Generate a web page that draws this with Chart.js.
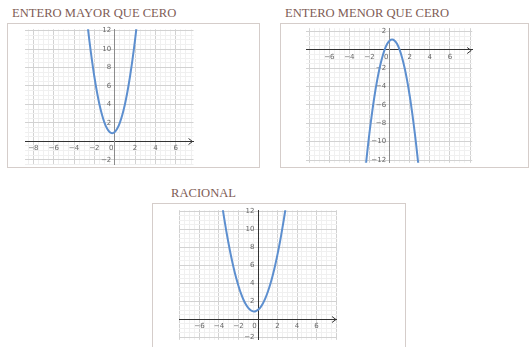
<!DOCTYPE html>
<html>
<head>
<meta charset="utf-8">
<script src="https://cdn.jsdelivr.net/npm/chart.js@4"></script>
<style>
  body { margin: 0; width: 529px; height: 347px; background: #fff; position: relative; overflow: hidden; }
  .title { position: absolute; font-family: "Liberation Serif", serif; font-size: 12.6px; line-height: 1; color: #7e5c55; white-space: nowrap; }
  .frame { position: absolute; border: 1px solid #d5cdca; background: #fff; box-sizing: border-box; }
  canvas { position: absolute; }
</style>
</head>
<body>
<div class="title" style="left:12px; top:7px;">ENTERO MAYOR QUE CERO</div>
<div class="title" style="left:285px; top:7px;">ENTERO MENOR QUE CERO</div>
<div class="title" style="left:171px; top:187px;">RACIONAL</div>

<div class="frame" style="left:7px; top:23px; width:253px; height:145px;"></div>
<div class="frame" style="left:280px; top:23px; width:249px; height:145px;"></div>
<div class="frame" style="left:152px; top:203px; width:254px; height:160px;"></div>

<canvas id="mayor" width="169" height="150" style="left:25px; top:22px;"></canvas>
<canvas id="menor" width="167" height="149" style="left:306px; top:21px;"></canvas>
<canvas id="racional" width="162" height="144" style="left:177px; top:203px;"></canvas>

<script>
// entero mayor que cero
const mayorX = [-2.75, -2.5, -2.25, -2, -1.75, -1.5, -1.25, -1, -0.75, -0.5, -0.25, 0, 0.25, 0.5, 0.75, 1, 1.25, 1.5, 1.75, 2, 2.25];
const mayorY = [13.38, 11, 8.88, 7, 5.38, 4, 2.88, 2, 1.38, 1, 0.88, 1, 1.38, 2, 2.88, 4, 5.38, 7, 8.88, 11, 13.38];
const mayorXTicks = [-8, -6, -4, -2, 0, 2, 4, 6];
const mayorYTicks = [-2, 2, 4, 6, 8, 10, 12];

// entero menor que cero
const menorX = [-2.5, -2.25, -2, -1.75, -1.5, -1.25, -1, -0.75, -0.5, -0.25, 0, 0.25, 0.5, 0.75, 1, 1.25, 1.5, 1.75, 2, 2.25, 2.5, 2.75, 3];
const menorY = [-14, -11.38, -9, -6.88, -5, -3.38, -2, -0.88, 0, 0.63, 1, 1.13, 1, 0.63, 0, -0.88, -2, -3.38, -5, -6.88, -9, -11.38, -14];
const menorXTicks = [-6, -4, -2, 0, 2, 4, 6];
const menorYTicks = [2, -2, -4, -6, -8, -10, -12];

// racional
const racionalX = [-3.75, -3.5, -3.25, -3, -2.75, -2.5, -2.25, -2, -1.75, -1.5, -1.25, -1, -0.75, -0.5, -0.25, 0, 0.25, 0.5, 0.75, 1, 1.25, 1.5, 1.75, 2, 2.25, 2.5, 2.75, 3];
const racionalY = [13.2, 11.42, 9.78, 8.29, 6.92, 5.7, 4.61, 3.67, 2.85, 2.18, 1.64, 1.25, 0.98, 0.86, 0.87, 1.03, 1.31, 1.74, 2.3, 3.01, 3.84, 4.82, 5.93, 7.19, 8.57, 10.1, 11.76, 13.57];
const racionalXTicks = [-6, -4, -2, 0, 2, 4, 6];
const racionalYTicks = [-2, 2, 4, 6, 8, 10, 12];

const MAJOR = "#d2d2d2";
const MINOR = "#f0f0f0";

const gridValues = (min, max, step) => {
  const out = [];
  for (let v = Math.ceil(min / step) * step; v <= max + 1e-9; v += step) {
    out.push(Math.round(v * 100) / 100);
  }
  return out;
};

const isMajor = (v) => Math.abs(v / 2 - Math.round(v / 2)) < 1e-6;
const fmt = (v) => (v < 0 ? "\u2212" + Math.abs(v) : String(v));

const gridColor = (ctx) => {
  const v = ctx.tick ? ctx.tick.value : 1;
  if (Math.abs(v) < 1e-9) return "rgba(0,0,0,0)";
  return isMajor(v) ? MAJOR : MINOR;
};

// small arrow head on the right end of the x axis
const axisArrow = {
  id: "axisArrow",
  afterDraw(chart) {
    const { ctx, chartArea, scales } = chart;
    const y0 = Math.round(scales.y.getPixelForValue(0)) + 0.5;
    const xr = chartArea.right - 1;
    ctx.save();
    ctx.strokeStyle = "#333";
    ctx.lineWidth = 1;
    ctx.beginPath();
    ctx.moveTo(xr - 4, y0 - 3);
    ctx.lineTo(xr, y0);
    ctx.lineTo(xr - 4, y0 + 3);
    ctx.stroke();
    ctx.restore();
  },
};

const generateGraph = (canvasId, xs, ys, xRange, yRange, xTicks, yTicks, yAxisColor) => {
  const canvas = document.getElementById(canvasId).getContext("2d");
  const tickFont = { size: 7, family: "DejaVu Sans" };

  new Chart(canvas, {
    type: "line",
    data: {
      datasets: [
        {
          data: xs.map((x, i) => ({ x: x, y: ys[i] })),
          borderColor: "#5d8fcf",
          borderWidth: 2,
          pointRadius: 0,
          tension: 0.3,
          fill: false,
        },
      ],
    },
    plugins: [axisArrow],
    options: {
      responsive: false,
      animation: false,
      layout: { padding: 0 },
      plugins: {
        legend: { display: false },
        tooltip: { enabled: false },
      },
      scales: {
        x: {
          type: "linear",
          min: xRange[0],
          max: xRange[1],
          position: { y: 0 },
          afterBuildTicks: (axis) => {
            axis.ticks = gridValues(xRange[0], xRange[1], 0.5).map((v) => ({ value: v }));
          },
          ticks: {
            autoSkip: false,
            maxRotation: 0,
            padding: 3,
            color: "#666",
            font: tickFont,
            callback: (value) => {
              if (!xTicks.includes(value)) return "";
              return value === 0 ? "0\u2003" : fmt(value);
            },
          },
          grid: { color: gridColor, drawTicks: false, lineWidth: 1 },
          border: { color: "#333", width: 1 },
        },
        y: {
          type: "linear",
          min: yRange[0],
          max: yRange[1],
          position: { x: 0 },
          afterBuildTicks: (axis) => {
            axis.ticks = gridValues(yRange[0], yRange[1], 0.5).map((v) => ({ value: v }));
          },
          ticks: {
            autoSkip: false,
            padding: 3,
            color: "#666",
            font: tickFont,
            // trailing space keeps the label clear of the axis line
            callback: (value) => (yTicks.includes(value) ? fmt(value) + "\u2002" : ""),
          },
          grid: { color: gridColor, drawTicks: false, lineWidth: 1 },
          border: { color: yAxisColor, width: 1 },
        },
      },
    },
  });
};

generateGraph("mayor", mayorX, mayorY, [-8.82, 7.75], [-2.55, 12.16], mayorXTicks, mayorYTicks, "#8c8c8c");
generateGraph("menor", menorX, menorY, [-8.32, 8.22], [-12.3, 2.36], menorXTicks, menorYTicks, "#8c8c8c");
generateGraph("racional", racionalX, racionalY, [-8.1, 8.1], [-2.3, 12.1], racionalXTicks, racionalYTicks, "#333");
</script>
</body>
</html>
